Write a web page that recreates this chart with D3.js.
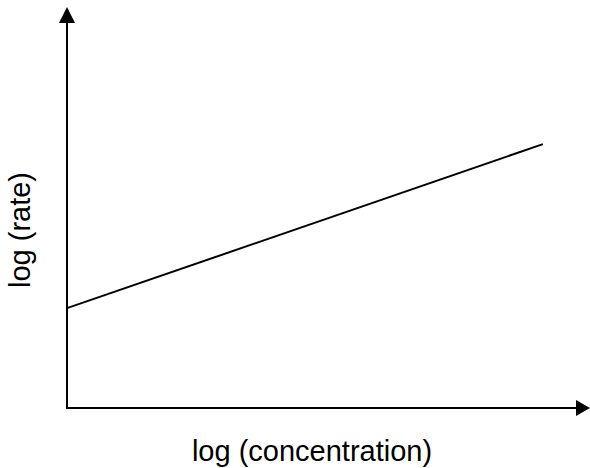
<!DOCTYPE html>
<html>
<head>
<meta charset="utf-8">
<script src="https://cdnjs.cloudflare.com/ajax/libs/d3/7.8.5/d3.min.js"></script>
<style>
  body { margin: 0; background: #fff; }
  svg { display: block; }
  text { font-family: "Liberation Sans", Arial, sans-serif; fill: #000; }
</style>
</head>
<body>
<div id="chart"></div>
<script>
// log(concentration) vs log(rate), arbitrary units
var logConc = [0, 9.1];
var logRate = [2.49, 6.58];
var axisLabels = ['log (concentration)', 'log (rate)'];

var width = 590, height = 468;

var svg = d3.select('#chart').append('svg')
    .attr('width', width)
    .attr('height', height);

var x = d3.scaleLinear().domain([0, 10]).range([67, 590]);
var y = d3.scaleLinear().domain([0, 10]).range([408, 7]);

// axes with arrow heads
var x0 = x(0), y0 = y(0), xEnd = x.range()[1], yEnd = y.range()[1];

svg.append('line')
    .attr('x1', x0).attr('y1', y0)
    .attr('x2', xEnd - 12).attr('y2', y0)
    .attr('stroke', '#000').attr('stroke-width', 2);

svg.append('line')
    .attr('x1', x0).attr('y1', y0 + 1)
    .attr('x2', x0).attr('y2', yEnd + 12)
    .attr('stroke', '#000').attr('stroke-width', 2);

svg.append('path')
    .attr('d', 'M' + xEnd + ',' + y0 + 'L' + (xEnd - 14) + ',' + (y0 - 8) + 'L' + (xEnd - 14) + ',' + (y0 + 8) + 'Z')
    .attr('fill', '#000');

svg.append('path')
    .attr('d', 'M' + x0 + ',' + yEnd + 'L' + (x0 - 8) + ',' + (yEnd + 16) + 'L' + (x0 + 8) + ',' + (yEnd + 16) + 'Z')
    .attr('fill', '#000');

// the straight line
var pts = logConc.map(function(d, i) { return [d, logRate[i]]; });
var line = d3.line()
    .x(function(d) { return x(d[0]); })
    .y(function(d) { return y(d[1]); });

svg.append('path')
    .datum(pts)
    .attr('d', line)
    .attr('fill', 'none')
    .attr('stroke', '#000')
    .attr('stroke-width', 2);

// axis titles
svg.append('text')
    .attr('x', 312)
    .attr('y', 461)
    .attr('text-anchor', 'middle')
    .style('font-size', '29px')
    .text(axisLabels[0]);

svg.append('text')
    .attr('transform', 'translate(30,230) rotate(-90)')
    .attr('text-anchor', 'middle')
    .style('font-size', '29px')
    .text(axisLabels[1]);
</script>
</body>
</html>
